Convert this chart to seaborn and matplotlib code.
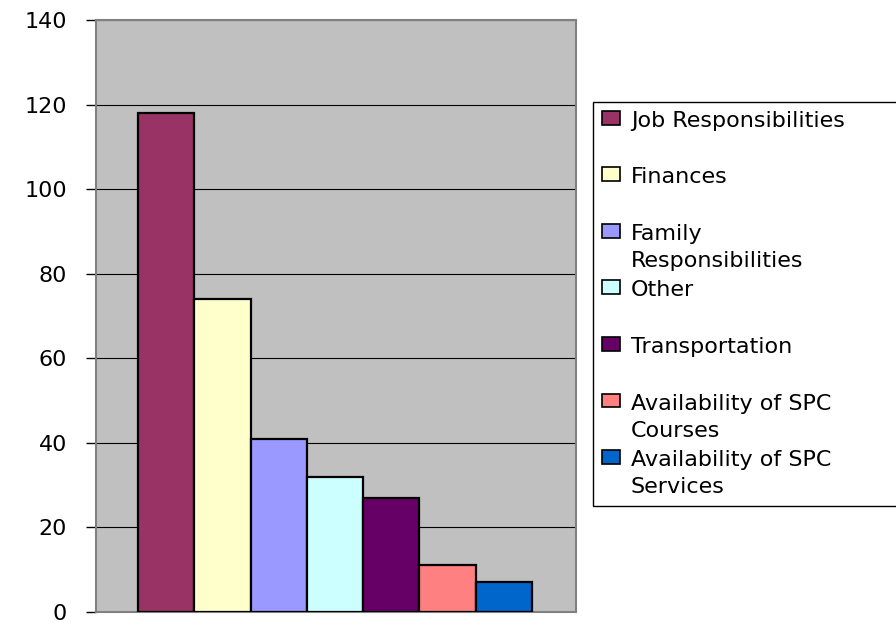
import matplotlib
matplotlib.use("Agg")
import matplotlib.pyplot as plt
import seaborn as sns
import pandas as pd

# Reasons given, with the number of responses for each
categories = [
    "Job Responsibilities",
    "Finances",
    "Family Responsibilities",
    "Other",
    "Transportation",
    "Availability of SPC Courses",
    "Availability of SPC Services",
]
legend_labels = [
    "Job Responsibilities\n",
    "Finances\n",
    "Family\nResponsibilities",
    "Other\n",
    "Transportation\n",
    "Availability of SPC\nCourses",
    "Availability of SPC\nServices",
]
counts = [118, 74, 41, 32, 27, 11, 7]
colors = ["#993366", "#FFFFCC", "#9999FF", "#CCFFFF", "#660066", "#FF8080", "#0066CC"]
y_ticks = [0, 20, 40, 60, 80, 100, 120, 140]

df = pd.DataFrame({"reason": categories, "count": counts})

sns.set_style("white")
plt.rcParams["font.family"] = ["DejaVu Sans"]
plt.rcParams["text.color"] = "black"
plt.rcParams["ytick.labelcolor"] = "black"

fig = plt.figure(figsize=(8.96, 6.25), dpi=100)
ax = fig.add_axes([96 / 896, 13 / 625, 480 / 896, 592 / 625])
ax.set_facecolor("#C0C0C0")

sns.barplot(
    data=df, x="reason", y="count", hue="reason",
    palette=dict(zip(categories, colors)), width=1.0,
    edgecolor="black", linewidth=1.6, saturation=1, legend=False, ax=ax, zorder=3,
)

ax.set_xlim(-1.246, 7.282)
ax.set_ylim(0, 140)
ax.set_yticks(y_ticks)
ax.set_xticks([])
ax.set_xlabel("")
ax.set_ylabel("")
ax.yaxis.grid(True, color="black", linewidth=0.8, zorder=1)
ax.set_axisbelow(True)
ax.tick_params(axis="y", which="major", direction="out", length=7, width=1,
               color="black", labelcolor="black", pad=14, labelsize=16, left=True)

for side in ["left", "right", "top", "bottom"]:
    ax.spines[side].set_visible(True)
    ax.spines[side].set_color("#808080")
    ax.spines[side].set_linewidth(1.5)

handles = [c.patches[0] for c in ax.containers]
leg = ax.legend(
    handles, legend_labels,
    loc="upper left",
    bbox_to_anchor=(593 / 896, 0, 320 / 896, 523 / 625),
    bbox_transform=fig.transFigure,
    mode="expand",
    borderaxespad=0, borderpad=0.4,
    frameon=True, fancybox=False, framealpha=1,
    edgecolor="black", facecolor="white",
    fontsize=16, handlelength=0.8, handleheight=0.58, handletextpad=0.5,
    labelspacing=0.42,
)
leg.get_frame().set_linewidth(1.0)
for t in leg.get_texts():
    t.set_linespacing(1.45)
    t.set_color("black")
for col in leg._legend_handle_box.get_children():
    for item in col.get_children():
        item.align = "top"
for h in leg.legend_handles:
    h.set_linewidth(1.2)

fig.savefig("out.png", dpi=100)
